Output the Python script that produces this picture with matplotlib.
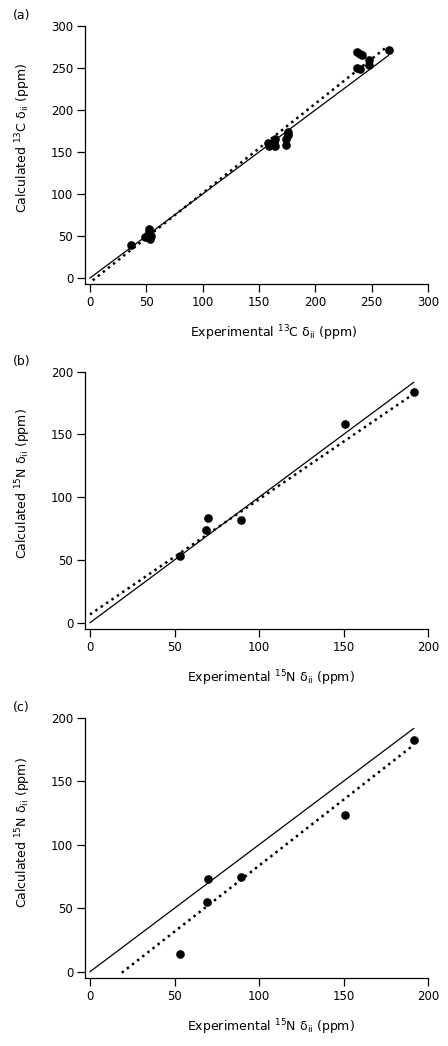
import numpy as np
import matplotlib
matplotlib.use("Agg")
import matplotlib.pyplot as plt

plt.rcParams["font.family"] = ["DejaVu Sans"]
plt.rcParams["mathtext.fontset"] = "dejavusans"

# ============================================================
# Panel (a): 13C
# ============================================================
a_exp = [36, 49, 51, 52, 52, 53, 54, 158, 159, 163, 164, 164,
         174, 174, 176, 176, 237, 240, 241, 237, 240, 248, 248, 265]
a_calc = [39, 49, 50, 58, 55, 47, 50, 161, 157, 162, 165, 157,
          158, 165, 170, 174, 268.5, 266.5, 265.5, 250.5, 249, 260, 253.5, 271.5]
a_ideal_x = [0, 265]
a_ideal_y = [0, 265]
a_fit_x = [2.4, 263.7]
a_fit_y = [-2.8, 275.4]

# ============================================================
# Panel (b): 15N
# ============================================================
b_exp = [53.3, 68.7, 69.9, 89.2, 151.0, 191.5]
b_calc = [53.4, 73.8, 83.7, 81.5, 158.0, 184.1]
b_ideal_x = [0, 191.5]
b_ideal_y = [0, 191.5]
b_fit_x = [0, 190.5]
b_fit_y = [6.6, 181.4]

# ============================================================
# Panel (c): 15N
# ============================================================
c_exp = [53.3, 69.1, 69.9, 89.2, 151.0, 191.5]
c_calc = [13.6, 54.6, 73.0, 74.5, 123.4, 182.2]
c_ideal_x = [0, 191.5]
c_ideal_y = [0, 191.5]
c_fit_x = [18.8, 191.5]
c_fit_y = [-0.8, 178.5]

W, H = 448, 1046
fig = plt.figure(figsize=(W / 100, H / 100), dpi=100)


def px_axes(top, bottom, left=85, right=428):
    return fig.add_axes([left / W, 1 - bottom / H, (right - left) / W, (bottom - top) / H])


panels = [
    dict(box=(26, 284), xlim=(-4.44, 300), ylim=(-7.14, 300), ticks=np.arange(0, 301, 50),
         exp=a_exp, calc=a_calc, ix=a_ideal_x, iy=a_ideal_y, fx=a_fit_x, fy=a_fit_y,
         nuc="13", el="C", tag="(a)", ylab_y=0.568, xlab_x=0.551),
    dict(box=(371.7, 629), xlim=(-2.96, 200), ylim=(-5.0, 200), ticks=np.arange(0, 201, 50),
         exp=b_exp, calc=b_calc, ix=b_ideal_x, iy=b_ideal_y, fx=b_fit_x, fy=b_fit_y,
         nuc="15", el="N", tag="(b)", ylab_y=0.567, xlab_x=0.542),
    dict(box=(717.7, 977.7), xlim=(-2.96, 200), ylim=(-4.7, 200), ticks=np.arange(0, 201, 50),
         exp=c_exp, calc=c_calc, ix=c_ideal_x, iy=c_ideal_y, fx=c_fit_x, fy=c_fit_y,
         nuc="15", el="N", tag="(c)", ylab_y=0.56, xlab_x=0.542),
]

for p in panels:
    top, bottom = p["box"]
    ax = px_axes(top, bottom)
    ax.plot(p["ix"], p["iy"], color="black", lw=0.9)
    ax.plot(p["fx"], p["fy"], color="black", lw=1.8, linestyle=(0, (1, 1.6)))
    ax.plot(p["exp"], p["calc"], "o", color="black", ms=5.2)
    ax.set_xlim(*p["xlim"])
    ax.set_ylim(*p["ylim"])
    ax.set_xticks(p["ticks"])
    ax.set_yticks(p["ticks"])
    for s in ["top", "right"]:
        ax.spines[s].set_visible(False)
    for s in ["left", "bottom"]:
        ax.spines[s].set_linewidth(0.9)
    ax.tick_params(direction="out", length=5.5, width=0.9, labelsize=8.5, pad=3)
    ax.set_xlabel(r"Experimental $^{%s}$%s $\mathregular{\delta_{ii}}$ (ppm)" % (p["nuc"], p["el"]),
                  fontsize=9)
    ax.set_ylabel(r"Calculated $^{%s}$%s $\mathregular{\delta_{ii}}$ (ppm)" % (p["nuc"], p["el"]),
                  fontsize=9)
    ax.xaxis.set_label_coords(p["xlab_x"], -49 / (bottom - top))
    ax.xaxis.label.set_va("center")
    ax.yaxis.set_label_coords(-62 / 343, p["ylab_y"])
    ax.yaxis.label.set_va("center")
    fig.text(13 / W, 1 - (top - 10) / H, p["tag"], fontsize=9, va="center", ha="left")

fig.savefig("out.png", dpi=100)
